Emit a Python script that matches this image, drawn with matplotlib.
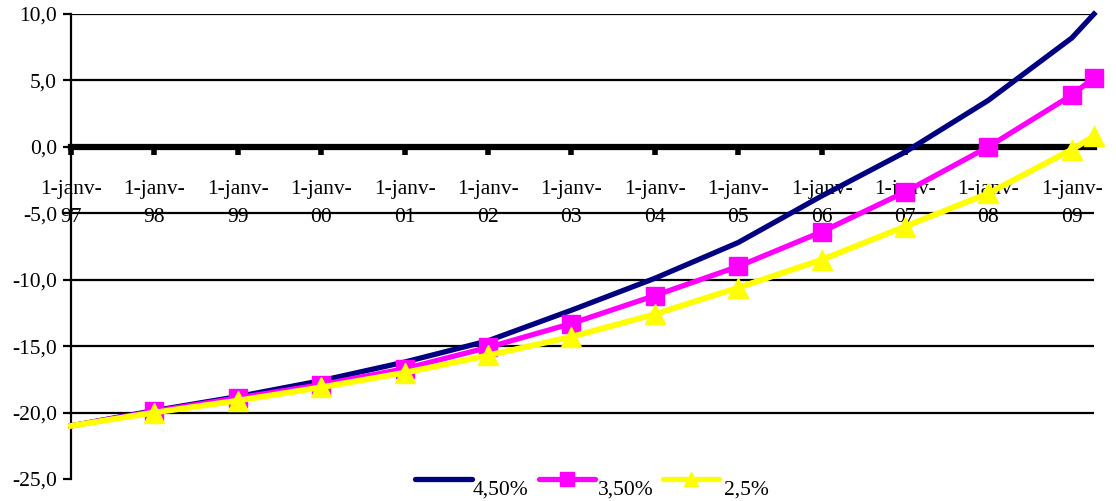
import matplotlib
matplotlib.use('Agg')
import matplotlib.pyplot as plt
from matplotlib.lines import Line2D
import pandas as pd

plt.rcParams['font.family'] = ['Liberation Serif', 'DejaVu Serif']

# dates des points (1er janvier de chaque année + dernier point en avril 2009)
dates = pd.to_datetime(['1997-01-01', '1998-01-01', '1999-01-01', '2000-01-01',
                        '2001-01-01', '2002-01-01', '2003-01-01', '2004-01-01',
                        '2005-01-01', '2006-01-01', '2007-01-01', '2008-01-01',
                        '2009-01-01', '2009-04-08'])

taux_450 = [-21.0, -19.85, -18.8, -17.6, -16.2, -14.6, -12.3, -9.9, -7.2, -3.7, -0.4, 3.5, 8.2, 10.0]
taux_350 = [-21.0, -19.9, -18.9, -17.9, -16.7, -15.1, -13.3, -11.2, -9.0, -6.4, -3.4, 0.0, 3.9, 5.2]
taux_250 = [-21.0, -20.0, -19.1, -18.1, -17.0, -15.7, -14.3, -12.6, -10.6, -8.5, -6.0, -3.5, -0.2, 0.8]

labels = ['4,50%', '3,50%', '2,5%']
couleurs = ['#000080', '#ff00ff', '#ffff00']

annees = ['97', '98', '99', '00', '01', '02', '03', '04', '05', '06', '07', '08', '09']
ticks_x = pd.to_datetime([('19' if a.startswith('9') else '20') + a + '-01-01' for a in annees])
ticks_y = [-25, -20, -15, -10, -5, 0, 5, 10]

fig = plt.figure(figsize=(11.16, 5.01), dpi=100)
ax = fig.add_axes([71 / 1116, 1 - 479 / 501, (1094 - 71) / 1116, 465 / 501])

# grille horizontale
for y in ticks_y[1:]:
    ax.axhline(y, color='black', lw=1.6, zorder=1)

ax.plot(dates, taux_450, color=couleurs[0], lw=3.8, zorder=3, clip_on=False)
ax.plot(dates, taux_350, color=couleurs[1], lw=3.8, marker='s', ms=13.5,
        markevery=slice(1, None), zorder=4, clip_on=False)
ax.plot(dates, taux_250, color=couleurs[2], lw=4.2, marker='^', ms=14,
        markevery=slice(1, None), zorder=5, clip_on=False)

ax.set_xlim(dates[0], dates[-1])
ax.set_ylim(-25, 10)

for s in ['top', 'right']:
    ax.spines[s].set_visible(False)
ax.spines['left'].set_linewidth(1.6)
ax.spines['bottom'].set_position(('data', 0))
ax.spines['bottom'].set_linewidth(4.5)
ax.spines['bottom'].set_zorder(2)

ax.set_yticks(ticks_y)
ax.set_yticklabels([f'{v:.1f}'.replace('.', ',') for v in ticks_y], fontsize=15.5)
ax.tick_params(axis='y', direction='out', length=6, width=1.6, pad=4)

ax.set_xticks(ticks_x)
ax.set_xticklabels(['1-janv-\n' + a for a in annees], fontsize=15.5, linespacing=1.6)
ax.tick_params(axis='x', direction='out', length=6, width=4, pad=18)

# légende en bas
lx = [(415, 472), (539, 595), (663, 719)]
tx = [473, 598, 724]
marks = [None, 's', '^']
for (x0, x1), t, c, m, lab in zip(lx, tx, couleurs, marks, labels):
    fig.add_artist(Line2D([x0 / 1116, x1 / 1116], [1 - 479 / 501] * 2, color=c, lw=3.8,
                          solid_capstyle='round', transform=fig.transFigure))
    if m:
        fig.add_artist(Line2D([(x0 + x1) / 2 / 1116], [1 - 479 / 501], color=c, marker=m,
                              ms=10, transform=fig.transFigure))
    fig.text(t / 1116, 1 - 490 / 501, lab, fontsize=15.5, va='center', ha='left')

fig.savefig('out.png', dpi=100)
